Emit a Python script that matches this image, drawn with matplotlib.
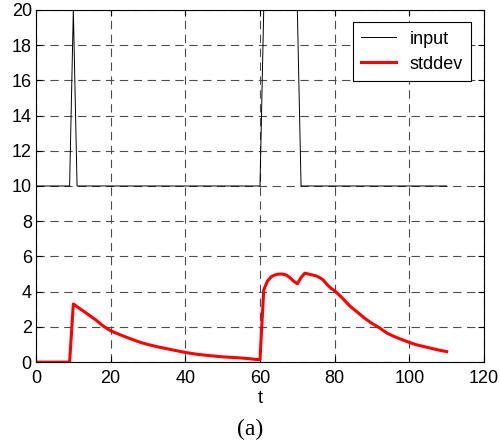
import numpy as np
import matplotlib.pyplot as plt

plt.rcParams['font.family'] = ['Liberation Sans', 'DejaVu Sans']
plt.rcParams['lines.scale_dashes'] = False

# input signal
t_in = [0, 9, 10, 11, 60, 61, 70, 71, 110]
v_in = [10, 10, 20, 10, 10, 20, 20, 10, 10]

# stddev estimate
t_sd = [0, 9, 10, 12, 14, 16, 18, 20, 22, 25, 28, 30, 33, 36, 40, 43, 46, 50,
        54, 57, 59, 60, 61, 62, 63, 64, 65, 66, 67, 68, 69, 70, 71, 72, 73, 74,
        75, 76, 77, 78, 79, 80, 82, 84, 86, 88, 90, 92, 94, 96, 98, 100, 102,
        104, 106, 108, 110]
v_sd = [0, 0, 3.3, 3.0, 2.7, 2.4, 2.05, 1.78, 1.6, 1.35, 1.12, 1.0, 0.85, 0.72,
        0.55, 0.45, 0.38, 0.3, 0.25, 0.2, 0.15, 0.15, 4.1, 4.6, 4.85, 4.95, 5.0,
        5.0, 4.95, 4.8, 4.6, 4.45, 4.8, 5.05, 5.0, 4.95, 4.9, 4.8, 4.65, 4.4,
        4.2, 4.05, 3.65, 3.2, 2.85, 2.5, 2.2, 1.95, 1.65, 1.45, 1.28, 1.12, 0.98,
        0.88, 0.78, 0.68, 0.6]

fig = plt.figure(figsize=(5, 4.46), dpi=100)
ax = fig.add_axes([0.072, 0.188, 0.896, 0.790])

ax.plot(t_in, v_in, color='black', linewidth=0.7, label='input')
ax.plot(t_sd, v_sd, color='red', linewidth=2.2, label='stddev')

ax.set_xlim(0, 120)
ax.set_ylim(0, 20)
ax.set_xticks(np.arange(0, 121, 20))
ax.set_yticks(np.arange(0, 21, 2))
ax.tick_params(direction='in', length=4, top=True, right=True, labelsize=13)
ax.tick_params(axis='x', pad=6)
ax.tick_params(axis='y', pad=3)
ax.grid(True, color='0.3', linestyle=(0, (6, 4)), linewidth=0.8)
for s in ax.spines.values():
    s.set_linewidth(0.8)

ax.set_xlabel('t', fontsize=13, labelpad=2)
fig.text(0.5, 0.038, '(a)', fontsize=17, family='Liberation Serif',
         ha='center', va='center')

leg = ax.legend(loc='upper right', fontsize=13, fancybox=False, framealpha=1,
                edgecolor='black', borderaxespad=0.7, handlelength=1.9,
                handletextpad=0.8, labelspacing=0.45, borderpad=0.45)
leg.get_frame().set_linewidth(0.8)

fig.savefig('out.png', dpi=100)
